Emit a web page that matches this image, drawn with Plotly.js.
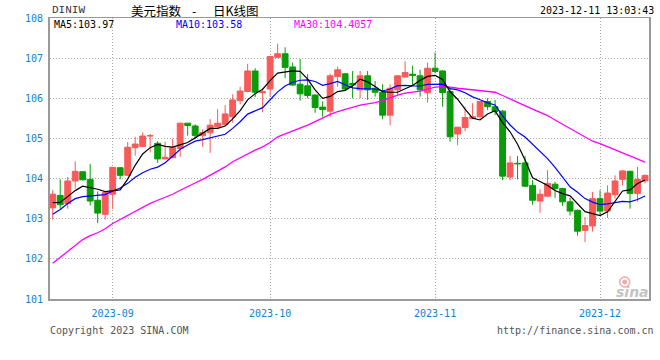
<!DOCTYPE html>
<html>
<head>
<meta charset="utf-8">
<script src="https://cdn.plot.ly/plotly-3.0.1.min.js"></script>
<style>html,body{margin:0;padding:0;background:#fff;}#chart{width:660px;height:360px;}</style>
</head>
<body>
<div id="chart"></div>
<script>
// Trading days (categories)
const dates = [
  "2023-08-22","2023-08-23","2023-08-24","2023-08-25","2023-08-28","2023-08-29","2023-08-30","2023-08-31",
  "2023-09-01","2023-09-04","2023-09-05","2023-09-06","2023-09-07","2023-09-08","2023-09-11","2023-09-12",
  "2023-09-13","2023-09-14","2023-09-15","2023-09-18","2023-09-19","2023-09-20","2023-09-21","2023-09-22",
  "2023-09-25","2023-09-26","2023-09-27","2023-09-28","2023-09-29",
  "2023-10-02","2023-10-03","2023-10-04","2023-10-05","2023-10-06","2023-10-09","2023-10-10","2023-10-11",
  "2023-10-12","2023-10-13","2023-10-16","2023-10-17","2023-10-18","2023-10-19","2023-10-20","2023-10-23",
  "2023-10-24","2023-10-25","2023-10-26","2023-10-27","2023-10-30","2023-10-31",
  "2023-11-01","2023-11-02","2023-11-03","2023-11-06","2023-11-07","2023-11-08","2023-11-09","2023-11-10",
  "2023-11-13","2023-11-14","2023-11-15","2023-11-16","2023-11-17","2023-11-20","2023-11-21","2023-11-22",
  "2023-11-23","2023-11-24","2023-11-27","2023-11-28","2023-11-29","2023-11-30",
  "2023-12-01","2023-12-04","2023-12-05","2023-12-06","2023-12-07","2023-12-08","2023-12-11"
];
const openV = [103.27,103.58,103.38,103.94,104.17,103.98,103.46,103.11,103.61,104.27,
  104.08,104.77,104.80,105.06,104.88,104.49,104.52,104.75,105.38,105.31,
  105.07,105.14,105.29,105.35,105.54,105.94,106.17,106.68,106.14,106.23,
  107.02,107.11,106.78,106.35,106.31,106.08,105.78,105.68,106.54,106.61,
  106.37,106.21,106.56,106.25,106.15,105.58,106.21,106.53,106.60,106.56,
  106.14,106.75,106.68,106.17,105.11,105.27,105.50,105.54,105.92,105.79,
  105.68,104.04,104.38,104.39,103.83,103.44,103.56,103.86,103.75,103.42,
  103.21,102.71,102.82,103.50,103.19,103.60,103.98,104.18,103.63,103.94];
const highV = [103.71,103.98,104.04,104.43,104.19,104.36,103.68,103.69,104.28,104.28,
  104.91,105.04,105.15,105.11,104.93,104.92,104.99,105.38,105.38,105.35,
  105.23,105.48,105.73,105.83,106.10,106.29,106.86,106.75,106.25,107.04,
  107.36,107.27,106.89,106.98,106.60,106.10,105.92,106.61,106.79,106.63,
  106.68,106.68,106.68,106.43,106.35,106.35,106.58,106.92,106.81,106.71,
  106.89,107.14,106.70,106.25,105.29,105.79,105.88,105.93,106.00,105.96,
  105.71,104.56,104.56,104.56,103.96,103.73,104.21,103.92,103.77,103.52,
  103.23,103.04,103.67,103.71,103.83,104.08,104.21,104.20,104.29,104.10];
const lowV = [102.98,103.25,103.25,103.75,103.95,103.33,102.89,102.98,103.24,103.98,
  104.07,104.57,104.79,104.65,104.39,104.48,104.52,104.54,105.07,105.00,
  104.79,104.64,105.27,105.32,105.39,105.85,106.15,106.03,105.65,106.04,
  107.00,106.50,106.31,105.94,106.00,105.64,105.54,105.53,106.29,106.18,
  106.00,106.00,105.96,106.04,105.48,105.33,106.08,106.52,106.31,106.04,
  105.89,106.62,105.79,104.92,104.83,105.18,105.48,105.46,105.71,105.58,
  103.96,103.96,103.98,103.79,103.35,103.15,103.54,103.52,103.32,103.08,
  102.58,102.42,102.68,103.08,103.02,103.50,103.83,103.25,103.43,103.88];
const closeV = [103.61,103.35,103.94,104.18,103.97,103.44,103.14,103.65,104.28,104.08,
  104.78,104.86,105.06,105.07,104.49,104.53,104.77,105.38,105.32,105.07,
  105.15,105.33,105.38,105.61,105.96,106.18,106.68,106.15,106.16,107.04,
  107.11,106.77,106.33,106.11,106.07,105.77,105.72,106.56,106.71,106.23,
  106.33,106.56,106.21,106.15,105.58,106.25,106.56,106.64,106.57,106.21,
  106.75,106.67,106.14,105.04,105.28,105.52,105.54,105.92,105.79,105.67,
  104.06,104.39,104.37,103.81,103.46,103.61,103.88,103.75,103.42,103.19,
  102.69,102.83,103.50,103.19,103.64,103.94,104.19,103.63,103.98,104.08];
// Moving-average values read off the chart where earlier closes are not shown
const ma5Start = [103.40,103.41,103.55,103.70];
const ma10Start = [103.11,103.23,103.38,103.50,103.55,103.57,103.58,103.60,103.69];
const ma30V = [101.89,102.03,102.17,102.33,102.48,102.58,102.65,102.75,102.88,102.98,
  103.08,103.19,103.29,103.38,103.46,103.53,103.61,103.71,103.79,103.89,
  103.98,104.08,104.17,104.29,104.42,104.52,104.63,104.71,104.79,104.90,
  105.04,105.11,105.18,105.27,105.33,105.42,105.52,105.60,105.67,105.72,
  105.77,105.83,105.86,105.89,105.94,106.02,106.08,106.13,106.15,106.18,
  106.23,106.28,106.29,106.28,106.25,106.23,106.20,106.18,106.17,106.15,
  106.07,105.98,105.89,105.81,105.73,105.65,105.57,105.46,105.35,105.25,
  105.14,105.04,104.93,104.87,104.79,104.73,104.65,104.57,104.48,104.41];
const monthTicks = ["2023-09-01","2023-10-02","2023-11-01","2023-12-01"];
const monthLabels = ["2023-09","2023-10","2023-11","2023-12"];
const yTicks = [101,102,103,104,105,106,107,108];
const legendTexts = ["MA5:103.97","MA10:103.58","MA30:104.4057"];
const titleParts = ["美元指数","-","日K线图"];

function movingAvg(arr, n, start){
  const out = [];
  for (let i=0;i<arr.length;i++){
    if (i < start.length) { out.push(start[i]); continue; }
    let s=0; for (let k=i-n+1;k<=i;k++) s+=arr[k];
    out.push(+(s/n).toFixed(3));
  }
  return out;
}
const ma5V = movingAvg(closeV,5,ma5Start);
const ma10V = movingAvg(closeV,10,ma10Start);

const RED = "#f85a5a", GREEN = "#089c08";
const mono = "DejaVu Sans Mono";
const tickBlue = "#1580cf";

const traces = [
  {type:"candlestick", x:dates, open:openV, high:highV, low:lowV, close:closeV,
   increasing:{line:{color:RED,width:1}, fillcolor:RED},
   decreasing:{line:{color:GREEN,width:1}, fillcolor:GREEN},
   whiskerwidth:0, hoverinfo:"skip", showlegend:false},
  {type:"scatter", mode:"lines", x:dates, y:ma30V, line:{color:"#ff00ff",width:1.3}, hoverinfo:"skip", showlegend:false},
  {type:"scatter", mode:"lines", x:dates, y:ma10V, line:{color:"#0000ff",width:1.2}, hoverinfo:"skip", showlegend:false},
  {type:"scatter", mode:"lines", x:dates, y:ma5V, line:{color:"#000000",width:1.2}, hoverinfo:"skip", showlegend:false}
];

const L=50, R=649.3, T=18.3, B=299;
const px = x => (x-L)/(R-L);
const py = y => (B-y)/(B-T);
const cjk = "Noto Sans CJK SC";

const layout = {
  width:660, height:360,
  margin:{l:L, r:660-R, t:T, b:360-B, pad:0},
  paper_bgcolor:"#fff", plot_bgcolor:"#fff",
  showlegend:false,
  boxgap:0.22, boxgroupgap:0,
  xaxis:{type:"category", range:[-0.36,79.53], rangeslider:{visible:false},
    tickvals:monthTicks, ticktext:monthLabels, ticks:"",
    tickfont:{family:mono,size:10,color:tickBlue}, ticklabelstandoff:4,
    showgrid:true, gridcolor:"#a8a8a8", gridwidth:1, griddash:"1px,2px",
    showline:true, linecolor:"#9a9a9a", linewidth:1.5, mirror:true, zeroline:false, fixedrange:true},
  yaxis:{range:[101,108], tickvals:yTicks, ticks:"",
    tickfont:{family:mono,size:10,color:tickBlue}, ticklabelstandoff:3,
    showgrid:true, gridcolor:"#a8a8a8", gridwidth:1, griddash:"1px,2px",
    showline:true, linecolor:"#9a9a9a", linewidth:2, mirror:true, zeroline:false, fixedrange:true},
  shapes:[
    {type:"circle", xref:"paper", yref:"paper", x0:px(620), x1:px(630), y0:py(287), y1:py(277),
     line:{color:"#f2a8a8",width:1.5}, fillcolor:"rgba(0,0,0,0)"},
    {type:"circle", xref:"paper", yref:"paper", x0:px(623), x1:px(627), y0:py(284), y1:py(280),
     line:{color:"#f2a8a8",width:1}, fillcolor:"#f2a8a8"}
  ],
  annotations:[
    {xref:"paper",yref:"paper",x:px(50),y:py(10.5),xanchor:"left",yanchor:"middle",showarrow:false,
     text:"DINIW",font:{family:"Liberation Mono",size:11,color:"#333"}},
    {xref:"paper",yref:"paper",x:px(184),y:py(10.5),xanchor:"right",yanchor:"middle",showarrow:false,
     text:titleParts[0],font:{family:cjk,size:12.5,color:"#000"}},
    {xref:"paper",yref:"paper",x:px(194),y:py(10.5),xanchor:"center",yanchor:"middle",showarrow:false,
     text:titleParts[1],font:{family:cjk,size:12.5,color:"#000"}},
    {xref:"paper",yref:"paper",x:px(211),y:py(10.5),xanchor:"left",yanchor:"middle",showarrow:false,
     text:titleParts[2],font:{family:cjk,size:12.5,color:"#000"}},
    {xref:"paper",yref:"paper",x:px(656),y:py(11),xanchor:"right",yanchor:"middle",showarrow:false,
     text:"2023-12-11 13:03:43",font:{family:mono,size:10,color:"#000"}},
    {xref:"paper",yref:"paper",x:px(52),y:py(24.5),xanchor:"left",yanchor:"middle",showarrow:false,
     text:legendTexts[0],font:{family:mono,size:10,color:"#000"}},
    {xref:"paper",yref:"paper",x:px(174),y:py(24.5),xanchor:"left",yanchor:"middle",showarrow:false,
     text:legendTexts[1],font:{family:mono,size:10,color:"#0000ff"}},
    {xref:"paper",yref:"paper",x:px(292),y:py(24.5),xanchor:"left",yanchor:"middle",showarrow:false,
     text:legendTexts[2],font:{family:mono,size:10,color:"#ff00ff"}},
    {xref:"paper",yref:"paper",x:px(48),y:py(330),xanchor:"left",yanchor:"middle",showarrow:false,
     text:"Copyright 2023 SINA.COM",font:{family:mono,size:10,color:"#555"}},
    {xref:"paper",yref:"paper",x:px(656),y:py(330),xanchor:"right",yanchor:"middle",showarrow:false,
     text:"http://finance.sina.com.cn",font:{family:mono,size:10,color:"#555"}},
    {xref:"paper",yref:"paper",x:px(633),y:py(292),xanchor:"center",yanchor:"middle",showarrow:false,
     text:"<b><i>sina</i></b>",font:{family:"DejaVu Sans",size:14,color:"#c4c4c4"}}
  ]
};

Plotly.newPlot("chart", traces, layout, {staticPlot:true, displayModeBar:false});
</script>
</body>
</html>
